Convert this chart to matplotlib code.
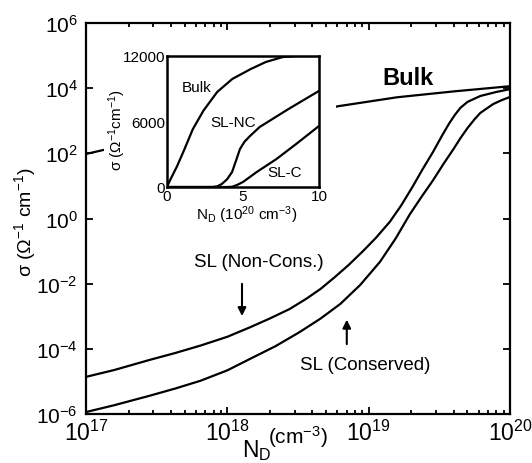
import numpy as np
import matplotlib
matplotlib.use("Agg")
import matplotlib.pyplot as plt
from matplotlib.patches import Rectangle
from matplotlib.ticker import LogLocator, NullLocator, FixedLocator

plt.rcParams['font.family'] = ['Liberation Sans', 'DejaVu Sans']
plt.rcParams['mathtext.fontset'] = 'custom'
plt.rcParams['mathtext.rm'] = 'Liberation Sans'
plt.rcParams['mathtext.it'] = 'Liberation Sans:italic'
plt.rcParams['mathtext.bf'] = 'Liberation Sans:bold'

# ---- main panel data (log10 values) ----
nc_logN = [17.0, 17.2, 17.45, 17.63, 17.81, 18.0, 18.16, 18.30, 18.44, 18.56, 18.66, 18.76,
           18.86, 18.96, 19.05, 19.15, 19.23, 19.31, 19.38, 19.455, 19.52, 19.57, 19.61,
           19.65, 19.70, 19.79, 19.90, 20.0]
nc_logS = [-4.86, -4.65, -4.34, -4.13, -3.90, -3.63, -3.34, -3.07, -2.78, -2.46, -2.16, -1.80,
           -1.42, -1.00, -0.60, -0.10, 0.40, 0.97, 1.50, 2.04, 2.55, 2.92, 3.18,
           3.40, 3.58, 3.76, 3.88, 3.97]

c_logN = [17.0, 17.2, 17.45, 17.63, 17.81, 18.0, 18.16, 18.34, 18.51, 18.66, 18.80, 18.94,
          19.08, 19.19, 19.29, 19.37, 19.455, 19.53, 19.60, 19.65, 19.70, 19.75, 19.79,
          19.88, 19.94, 20.0]
c_logS = [-5.94, -5.73, -5.44, -5.22, -4.98, -4.66, -4.31, -3.92, -3.49, -3.07, -2.62, -2.04,
          -1.33, -0.62, 0.12, 0.64, 1.17, 1.68, 2.13, 2.47, 2.78, 3.05, 3.24,
          3.51, 3.63, 3.73]

bulk_logN = [17.0, 17.12, 18.79, 19.2, 19.6, 20.0]
bulk_logS = [1.98, 2.10, 3.45, 3.72, 3.90, 4.06]

# ---- inset data (linear) ----
in_bulk_x = [0, 0.2, 0.66, 1.1, 1.7, 2.4, 3.3, 4.3, 5.5, 6.5, 7.6, 8.5, 10]
in_bulk_y = [0, 620, 1900, 3300, 5300, 7000, 8700, 9900, 10800, 11450, 11900, 12000, 12000]
in_nc_x = [0, 3.0, 3.3, 3.6, 3.95, 4.28, 4.55, 4.8, 5.1, 5.46, 6.1, 8.0, 10]
in_nc_y = [0, 0, 60, 270, 700, 1370, 2450, 3480, 4150, 4670, 5500, 7150, 8800]
in_c_x = [0, 4.0, 4.3, 4.6, 5.0, 5.9, 7.2, 8.6, 10]
in_c_y = [0, 0, 30, 180, 460, 1370, 2560, 4050, 5590]

W, H = 532, 464
fig = plt.figure(figsize=(W / 100, H / 100), dpi=100)

def fx(px):
    return px / W

def fy(py):
    return 1 - py / H

ax = fig.add_axes([fx(86), fy(415), fx(510) - fx(86), fy(24) - fy(415)])
ax.set_xscale('log')
ax.set_yscale('log')
ax.set_xlim(1e17, 1e20)
ax.set_ylim(1e-6, 1e6)

lw = 1.6
ax.plot(10 ** np.array(nc_logN), 10 ** np.array(nc_logS), color='black', lw=lw)
ax.plot(10 ** np.array(c_logN), 10 ** np.array(c_logS), color='black', lw=lw)
ax.plot(10 ** np.array(bulk_logN), 10 ** np.array(bulk_logS), color='black', lw=lw)

ax.yaxis.set_major_locator(FixedLocator([1e-6, 1e-4, 1e-2, 1e0, 1e2, 1e4, 1e6]))
ax.yaxis.set_minor_locator(NullLocator())
ax.xaxis.set_major_locator(FixedLocator([1e17, 1e18, 1e19, 1e20]))
ax.xaxis.set_minor_locator(LogLocator(base=10, subs=np.arange(2, 10), numticks=20))
ax.tick_params(which='both', direction='in', top=True, right=True, width=1.3)
ax.tick_params(which='major', length=5)
ax.tick_params(which='minor', length=3)
ax.tick_params(axis='y', labelsize=15, pad=6)
ax.tick_params(axis='x', labelsize=16.5, pad=4)
for s in ax.spines.values():
    s.set_linewidth(1.6)

# annotations
ax.annotate('', xy=(1.27e18, 10 ** -3.08), xytext=(1.27e18, 10 ** -1.92),
            arrowprops=dict(arrowstyle='-|>', color='black', lw=1.5, mutation_scale=12))
ax.annotate('', xy=(7.0e18, 10 ** -3.02), xytext=(7.0e18, 10 ** -3.94),
            arrowprops=dict(arrowstyle='-|>', color='black', lw=1.5, mutation_scale=12))
ax.text(1.66e18, 10 ** -1.33, 'SL (Non-Cons.)', fontsize=13.5, ha='center', va='center')
ax.text(9.4e18, 10 ** -4.47, 'SL (Conserved)', fontsize=13.5, ha='center', va='center')
ax.text(1.9e19, 10 ** 4.34, 'Bulk', fontsize=17, fontweight='bold', ha='center', va='center')

# labels
fig.text(fx(25), fy(222), r'σ (Ω$^{-1}$ cm$^{-1}$)', rotation=90, fontsize=14,
         ha='center', va='center')
fig.text(fx(242), fy(457), r'N$_\mathregular{D}$', fontsize=16.5, ha='left', va='baseline')
fig.text(fx(268), fy(444), r'(cm$^{-3}$)', fontsize=15, ha='left', va='baseline')

# white patch hiding the main plot behind the inset
fig.patches.append(Rectangle((fx(104), fy(225)), fx(336) - fx(104), fy(40) - fy(225),
                             transform=fig.transFigure, facecolor='white',
                             edgecolor='none', zorder=1))

# inset
ins = fig.add_axes([fx(167), fy(188), fx(319) - fx(167), fy(57) - fy(188)], zorder=2)
ins.plot(in_bulk_x, in_bulk_y, color='black', lw=1.6)
ins.plot(in_nc_x, in_nc_y, color='black', lw=1.6)
ins.plot(in_c_x, in_c_y, color='black', lw=1.6)
ins.set_xlim(0, 10)
ins.set_ylim(0, 12000)
ins.set_xticks([0, 5, 10])
ins.set_yticks([0, 6000, 12000])
ins.tick_params(length=0, labelsize=11, pad=1.5)
for s in ins.spines.values():
    s.set_linewidth(1.8)
ins.text(1.97, 9160, 'Bulk', fontsize=11, ha='center', va='center')
ins.text(4.34, 5950, 'SL-NC', fontsize=11, ha='center', va='center')
ins.text(7.76, 1370, 'SL-C', fontsize=11, ha='center', va='center')
fig.text(fx(117), fy(130), r'σ (Ω$^{-1}$cm$^{-1}$)', rotation=90, fontsize=11,
         ha='center', va='center')
fig.text(fx(247), fy(215), r'N$_\mathregular{D}$ (10$^{20}$ cm$^{-3}$)', fontsize=11,
         ha='center', va='center')

fig.savefig('out.png', dpi=100)
